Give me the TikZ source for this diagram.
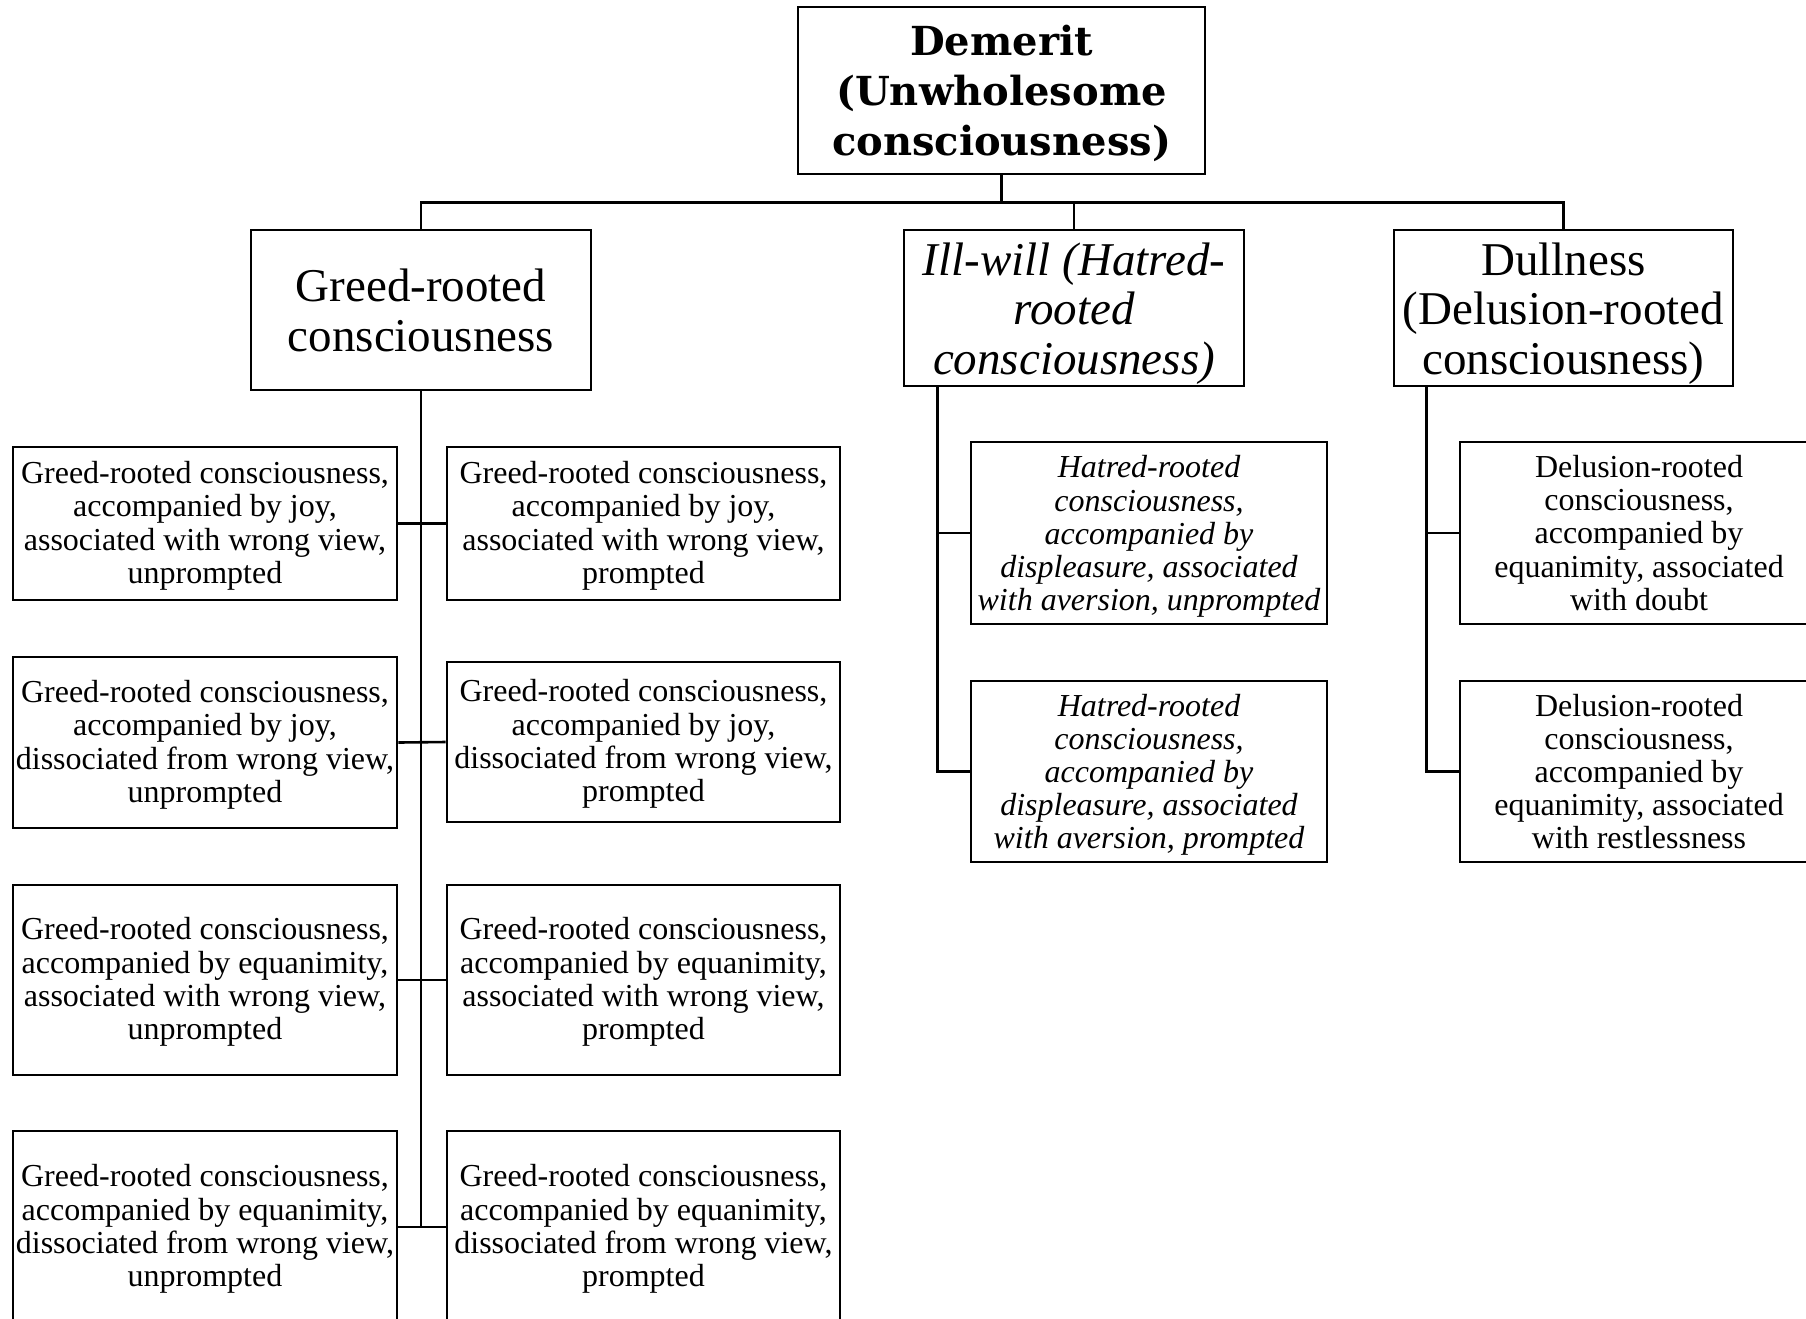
\documentclass[tikz,border=0pt]{standalone}
\usepackage{fontspec}
\setmainfont{Liberation Serif}
\newfontfamily\titlefont{DejaVu Serif}
% invisible struts that lift the first line of a box a little higher
\newcommand\liftby[1]{\rule{0pt}{#1}}
\begin{document}
\begin{tikzpicture}[x=1pt,y=-1pt,
  box/.style={draw, line width=2.6pt, inner sep=0pt, align=center},
  titlebox/.style={box, font=\titlefont\bfseries\fontsize{40}{50}\selectfont},
  headbox/.style={box, font=\fontsize{47}{50}\selectfont},
  leafbox/.style={box, font=\fontsize{32}{33.4}\selectfont},
  leftleaf/.style={leafbox, minimum width=384pt},
  rightleaf/.style={leafbox, minimum width=393pt},
  hatebox/.style={leafbox, font=\fontsize{32}{33.1}\selectfont\itshape, minimum width=356pt},
  delubox/.style={leafbox, font=\fontsize{32}{33.1}\selectfont, minimum width=358pt},
  link/.style={line width=2.6pt},
]
\clip (0,0) rectangle (1806,1318);
\fill[white] (0,0) rectangle (1806,1318);

% root and the three roots of unwholesome consciousness
\node[titlebox, minimum width=407pt, minimum height=167pt] (top) at (1001.5,90.5)
  {\liftby{37pt}Demerit\\(Unwholesome\\consciousness)};
\node[headbox, minimum width=340pt, minimum height=160pt] (greed) at (421,310)
  {Greed-rooted\\consciousness};
\node[headbox, font=\fontsize{47}{49.5}\selectfont\itshape, minimum width=340pt, minimum height=156pt] (ill) at (1074,308)
  {\liftby{43pt}Ill-will (Hatred-\\rooted\\consciousness)};
\node[headbox, font=\fontsize{47}{49.5}\selectfont, minimum width=339pt, minimum height=156pt] (dull) at (1563.5,308)
  {\liftby{43pt}Dullness\\(Delusion-rooted\\consciousness)};

% greed-rooted consciousness: eight types
\node[leftleaf, minimum height=153pt] (L1) at (205,523.5)
  {\liftby{26.5pt}Greed-rooted consciousness,\\accompanied by joy,\\associated with wrong view,\\unprompted};
\node[rightleaf, minimum height=153pt] (R1) at (643.5,523.5)
  {\liftby{26.5pt}Greed-rooted consciousness,\\accompanied by joy,\\associated with wrong view,\\prompted};
\node[leftleaf, minimum height=171pt] (L2) at (205,742.5)
  {\liftby{26.5pt}Greed-rooted consciousness,\\accompanied by joy,\\dissociated from wrong view,\\unprompted};
\node[rightleaf, minimum height=160pt] (R2) at (643.5,742)
  {\liftby{26.5pt}Greed-rooted consciousness,\\accompanied by joy,\\dissociated from wrong view,\\prompted};
\node[leftleaf, minimum height=190pt] (L3) at (205,980)
  {\liftby{26.5pt}Greed-rooted consciousness,\\accompanied by equanimity,\\associated with wrong view,\\unprompted};
\node[rightleaf, minimum height=190pt] (R3) at (643.5,980)
  {\liftby{26.5pt}Greed-rooted consciousness,\\accompanied by equanimity,\\associated with wrong view,\\prompted};
\node[leftleaf, minimum height=192pt] (L4) at (205,1227)
  {\liftby{26.5pt}Greed-rooted consciousness,\\accompanied by equanimity,\\dissociated from wrong view,\\unprompted};
\node[rightleaf, minimum height=192pt] (R4) at (643.5,1227)
  {\liftby{26.5pt}Greed-rooted consciousness,\\accompanied by equanimity,\\dissociated from wrong view,\\prompted};

% hatred-rooted consciousness: two types
\node[hatebox, minimum height=182pt] (H1) at (1149,533)
  {\liftby{29pt}Hatred-rooted\\consciousness,\\accompanied by\\displeasure, associated\\with aversion, unprompted};
\node[hatebox, minimum height=181pt] (H2) at (1149,771.5)
  {\liftby{29pt}Hatred-rooted\\consciousness,\\accompanied by\\displeasure, associated\\with aversion, prompted};

% delusion-rooted consciousness: two types
\node[delubox, minimum height=182pt] (D1) at (1639,533)
  {Delusion-rooted\\consciousness,\\accompanied by\\equanimity, associated\\with doubt};
\node[delubox, minimum height=181pt] (D2) at (1639,771.5)
  {Delusion-rooted\\consciousness,\\accompanied by\\equanimity, associated\\with restlessness};

% top bus
\coordinate (bus) at ([yshift=-27pt]top.south);
\draw[link] (top.south) -- (bus);
\draw[link] (greed.north) |- (bus) -| (dull.north);
\draw[link] (ill.north) -- (ill.north |- bus);

% greed stem and pairs
\coordinate (gend) at (greed.south |- L4.east);
\draw[link] (greed.south) -- (gend);
\foreach \k in {1,2,3,4} {
  \draw[link] (L\k.east) -- (R\k.west);
}

% hatred stem
\coordinate (istem) at ([xshift=35pt]ill.south west);
\draw[link] (istem) |- (H2.west);
\draw[link] (H1.west) -- (H1.west -| istem);

% delusion stem
\coordinate (dstem) at ([xshift=34pt]dull.south west);
\draw[link] (dstem) |- (D2.west);
\draw[link] (D1.west) -- (D1.west -| dstem);
\end{tikzpicture}
\end{document}
